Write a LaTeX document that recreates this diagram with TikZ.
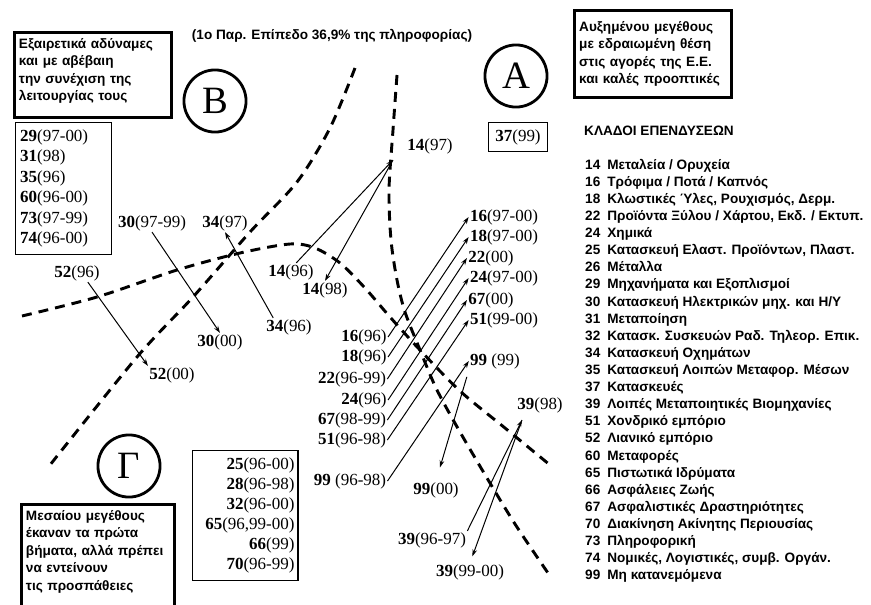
\documentclass[tikz,border=0pt]{standalone}
\usepackage{fontspec}
\setmainfont{Liberation Serif}
\newfontfamily\grsans{Liberation Sans}
\usetikzlibrary{arrows.meta}
\newcommand{\brlab}[2]{\textbf{#1}#2}

\begin{document}
\begin{tikzpicture}[x=0.03cm, y=-0.03cm,
    lbl/.style={font=\fontsize{14.5}{16}\selectfont, inner sep=1pt},
    gtxt/.style={font=\grsans\bfseries\fontsize{11.6}{15}\selectfont},
    gbox/.style={gtxt, draw, line width=2.2pt, align=left, inner xsep=4pt, inner ysep=5pt},
    nbox/.style={draw, line width=0.9pt, font=\fontsize{14.5}{17.5}\selectfont},
    quad/.style={circle, draw, line width=2.4pt, minimum size=53pt, inner sep=0pt, font=\fontsize{33}{33}\selectfont},
    bound/.style={line width=2.5pt, dash pattern=on 8.5pt off 6pt},
    arr/.style={-{Stealth[length=6pt,width=4pt]}, line width=0.85pt}]

\useasboundingbox (0,0) rectangle (871,604);

%Nodes
\node[gtxt] at (332,36) (title) {(1ο Παρ. Επίπεδο 36,9\% της πληροφορίας)};
\node[quad] at (215,101) (qB) {B};
\node[quad] at (516,76)  (qA) {A};
\node[quad] at (129,466) (qG) {Γ};

\node[gbox, anchor=north west, text width=126pt] at (13,31) (bdesc)
    {Εξαιρετικά αδύναμες\\ και με αβέβαιη\\ την συνέχιση της\\ λειτουργίας τους\rule[-9pt]{0pt}{0pt}};
\node[gbox, text width=126pt, minimum height=74pt] at (653,54) (adesc)
    {Αυξημένου μεγέθους\\ με εδραιωμένη θέση\\ στις αγορές της Ε.Ε.\\ και καλές προοπτικές};
\node[gbox, anchor=north west, text width=123pt] at (20,503) (gdesc)
    {Μεσαίου μεγέθους\\ έκαναν τα πρώτα\\ βήματα, αλλά πρέπει\\ να εντείνουν\\ τις προσπάθειες\rule[-14pt]{0pt}{0pt}};

\node[nbox, anchor=north west, text width=74pt, align=left, inner xsep=4pt, inner ysep=6pt] at (15,122) (bnums)
    {\brlab{29}{(97-00)}\\ \brlab{31}{(98)}\\ \brlab{35}{(96)}\\ \brlab{60}{(96-00)}\\ \brlab{73}{(97-99)}\\ \brlab{74}{(96-00)}};
\node[nbox, anchor=north west, text width=84pt, align=right, inner xsep=3pt, inner ysep=6.5pt,
      font=\fontsize{14.5}{17}\selectfont] at (192,450) (gnums)
    {\brlab{25}{(96-00)}\\ \brlab{28}{(96-98)}\\ \brlab{32}{(96-00)}\\ \brlab{65}{(96,99-00)}\\ \brlab{66}{(99)}\\ \brlab{70}{(96-99)}};
\node[nbox, inner xsep=6pt, inner ysep=5.5pt] at (518,137) (l37) {\brlab{37}{(99)}};

\node[gtxt, anchor=west, inner xsep=0pt] at (584,131) (lhead) {ΚΛΑΔΟΙ ΕΠΕΝΔΥΣΕΩΝ};
\node[gtxt, anchor=north west, inner sep=0pt] at (585,157) (legend) {%
  \fontsize{11.6}{14.6}\selectfont
  \begin{tabular}{@{}r@{\hspace{6pt}}l@{}}
  14 & Μεταλεία / Ορυχεία\\
  16 & Τρόφιμα / Ποτά / Καπνός\\
  18 & Κλωστικές Ύλες, Ρουχισμός, Δερμ.\\
  22 & Προϊόντα Ξύλου / Χάρτου, Εκδ. / Εκτυπ.\\
  24 & Χημικά\\
  25 & Κατασκευή Ελαστ. Προϊόντων, Πλαστ.\\
  26 & Μέταλλα\\
  29 & Μηχανήματα και Εξοπλισμοί\\
  30 & Κατασκευή Ηλεκτρικών μηχ. και Η/Υ\\
  31 & Μεταποίηση\\
  32 & Κατασκ. Συσκευών Ραδ. Τηλεορ. Επικ.\\
  34 & Κατασκευή Οχημάτων\\
  35 & Κατασκευή Λοιπών Μεταφορ. Μέσων\\
  37 & Κατασκευές\\
  39 & Λοιπές Μεταποιητικές Βιομηχανίες\\
  51 & Χονδρικό εμπόριο\\
  52 & Λιανικό εμπόριο\\
  60 & Μεταφορές\\
  65 & Πιστωτικά Ιδρύματα\\
  66 & Ασφάλειες Ζωής\\
  67 & Ασφαλιστικές Δραστηριότητες\\
  70 & Διακίνηση Ακίνητης Περιουσίας\\
  73 & Πληροφορική\\
  74 & Νομικές, Λογιστικές, συμβ. Οργάν.\\
  99 & Μη κατανεμόμενα
  \end{tabular}};

\node[lbl] at (152,223) (l30a) {\brlab{30}{(97-99)}};
\node[lbl] at (220,342) (l30b) {\brlab{30}{(00)}};
\node[lbl] at (225,223) (l34b) {\brlab{34}{(97)}};
\node[lbl] at (289,327) (l34a) {\brlab{34}{(96)}};
\node[lbl] at (77,273)  (l52a) {\brlab{52}{(96)}};
\node[lbl] at (172,375) (l52b) {\brlab{52}{(00)}};

\node[lbl] at (291,272) (l14a) {\brlab{14}{(96)}};
\node[lbl] at (430,146) (l14b) {\brlab{14}{(97)}};
\node[lbl] at (325,290) (l14c) {\brlab{14}{(98)}};
\coordinate (m14) at (393,160);

\node[lbl] at (364,337) (l16a) {\brlab{16}{(96)}};
\node[lbl] at (364,357) (l18a) {\brlab{18}{(96)}};
\node[lbl] at (352,379) (l22a) {\brlab{22}{(96-99)}};
\node[lbl] at (364,400) (l24a) {\brlab{24}{(96)}};
\node[lbl] at (352,420) (l67a) {\brlab{67}{(98-99)}};
\node[lbl] at (352,440) (l51a) {\brlab{51}{(96-98)}};
\node[lbl] at (350,481) (l99a) {\brlab{99}{ (96-98)}};

\node[lbl] at (504,217) (l16b) {\brlab{16}{(97-00)}};
\node[lbl] at (504,237) (l18b) {\brlab{18}{(97-00)}};
\node[lbl] at (491,258) (l22b) {\brlab{22}{(00)}};
\node[lbl] at (504,278) (l24b) {\brlab{24}{(97-00)}};
\node[lbl] at (491,300) (l67b) {\brlab{67}{(00)}};
\node[lbl] at (504,320) (l51b) {\brlab{51}{(99-00)}};
\node[lbl] at (495,361) (l99b) {\brlab{99}{ (99)}};
\node[lbl] at (436,490) (l99c) {\brlab{99}{(00)}};

\node[lbl] at (540,405) (l39b) {\brlab{39}{(98)}};
\node[lbl] at (432,540) (l39a) {\brlab{39}{(96-97)}};
\node[lbl] at (470,572) (l39c) {\brlab{39}{(99-00)}};
\coordinate (m39) at (522,420);

%Boundaries
\draw[bound] plot[smooth] coordinates {(355,68) (330,128) (297,182) (250,232) (193,297) (137,357) (50,465)};
\draw[bound] plot[smooth] coordinates {(22,316) (97,297) (177,270) (240,253) (290,244) (315,248) (340,263)
    (365,288) (390,317) (420,350) (460,391) (505,428) (550,465)};
\draw[bound] plot[smooth] coordinates {(397,75) (393,130) (389,190) (391,240) (397,280) (405,312) (420,350)
    (436,388) (456,425) (484,473) (515,524) (548,573)};

%Lines
\draw[arr] (l30a.south) -- (l30b.north);
\draw[arr] (l34a.150) -- (l34b.south);
\draw[arr] (l52a.-40) -- (l52b.north west);
\draw[arr] (l14a.60) -- (m14);
\draw[arr] (m14) -- (l14c.north);
\draw[arr] (l16a.east) -- (l16b.west);
\draw[arr] (l18a.east) -- (l18b.west);
\draw[arr] (l22a.east) -- (l22b.west);
\draw[arr] (l24a.east) -- (l24b.west);
\draw[arr] (l67a.east) -- (l67b.west);
\draw[arr] (l51a.east) -- (l51b.west);
\draw[arr] (l99a.east) -- (l99b.west);
\draw[arr, shorten <=6pt, shorten >=12pt] (l99b.south west) -- (l99c.north);
\draw[arr] (l39a.north east) -- (m39);
\draw[arr, shorten >=6pt] (m39) -- (l39c.north);
\end{tikzpicture}
\end{document}
